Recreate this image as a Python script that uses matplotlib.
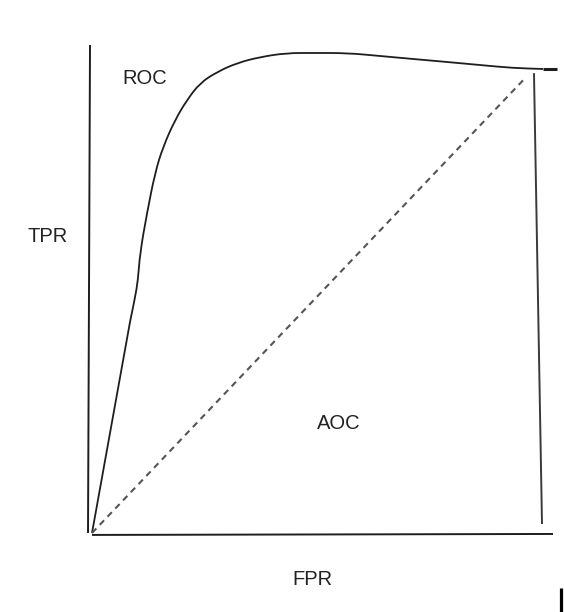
import numpy as np
from matplotlib import pyplot as plt
from matplotlib.path import Path
from matplotlib.patches import PathPatch
plt.rcParams['font.family'] = ['Liberation Sans', 'DejaVu Sans']

# ROC 曲线 (手绘示意图读取的数值)
fpr = [0.0, 0.0858, 0.0971, 0.1038, 0.1084, 0.1242, 0.1422, 0.1603, 0.1874,
       0.2144, 0.2438, 0.2822, 0.3273, 0.3792, 0.4402, 0.4989, 0.5756,
       0.6501, 0.7246, 0.8014, 0.8758, 0.9503, 1.0181]
tpr = [0.0, 0.4369, 0.4865, 0.5238, 0.5797, 0.6625, 0.7453, 0.7992, 0.8551,
       0.8965, 0.9317, 0.9545, 0.9731, 0.9855, 0.9938, 0.9938, 0.9938,
       0.9876, 0.9814, 0.9752, 0.9689, 0.9627, 0.9607]
# 曲线末端加粗的一小段
tail_fpr = [1.0181, 1.0497]
tail_tpr = [0.9607, 0.9607]
# 对角虚线
diag_fpr = [0.0, 0.980]
diag_tpr = [0.0, 0.944]
# 右侧竖线
right_fpr = [0.9977, 1.0158]
right_tpr = [0.952, 0.0186]
# 坐标轴 (手绘)
yaxis_fpr = [-0.0045, -0.009]
yaxis_tpr = [1.0104, 0.0]
xaxis_fpr = [0.0, 1.0406]
xaxis_tpr = [-0.004, -0.002]
# 右下角的小竖条
mark_fpr = [1.0587, 1.0587]
mark_tpr = [-0.1139, -0.17]

labels = ['ROC', 'TPR', 'AOC', 'FPR']
label_x = [0.1196, -0.0993, 0.5576, 0.4966]
label_y = [0.940, 0.6149, 0.2257, -0.0973]


def smooth_path(xs, ys):
    # 二次贝塞尔平滑: 以读取的点为控制点, 相邻中点为端点
    pts = list(zip(xs, ys))
    verts = [pts[0], pts[1]]
    codes = [Path.MOVETO, Path.LINETO]
    for i in range(2, len(pts) - 1):
        mid = ((pts[i][0] + pts[i + 1][0]) / 2, (pts[i][1] + pts[i + 1][1]) / 2)
        verts += [pts[i], mid]
        codes += [Path.CURVE3, Path.CURVE3]
    verts.append(pts[-1])
    codes.append(Path.LINETO)
    return Path(verts, codes)


fig = plt.figure(figsize=(5.64, 6.12), dpi=100)
ax = fig.add_axes([0, 0, 1, 1])
ax.set_xlim(-92 / 443, (564 - 92) / 443)
ax.set_ylim(-(612 - 533) / 483, 533 / 483)
ax.axis('off')

ink = '#1e1e1e'
ax.plot(yaxis_fpr, yaxis_tpr, color=ink, lw=1.4, solid_capstyle='butt')
ax.plot(xaxis_fpr, xaxis_tpr, color=ink, lw=1.4, solid_capstyle='butt')
ax.add_patch(PathPatch(smooth_path(fpr, tpr), fill=False, edgecolor=ink,
                       lw=1.3, joinstyle='round'))
ax.plot(tail_fpr, tail_tpr, color=ink, lw=2.2, solid_capstyle='butt')
ax.plot(diag_fpr, diag_tpr, color='#555555', lw=1.5, ls=(0, (3.0, 2.4)))
ax.plot(right_fpr, right_tpr, color='#3a3a3a', lw=1.4, solid_capstyle='butt')
ax.plot(mark_fpr, mark_tpr, color='black', lw=2.3, solid_capstyle='butt')

for t, x, y in zip(labels, label_x, label_y):
    ax.text(x, y, t, ha='center', va='center', fontsize=14.5, color='#222222')

fig.savefig('out.png', dpi=100)
